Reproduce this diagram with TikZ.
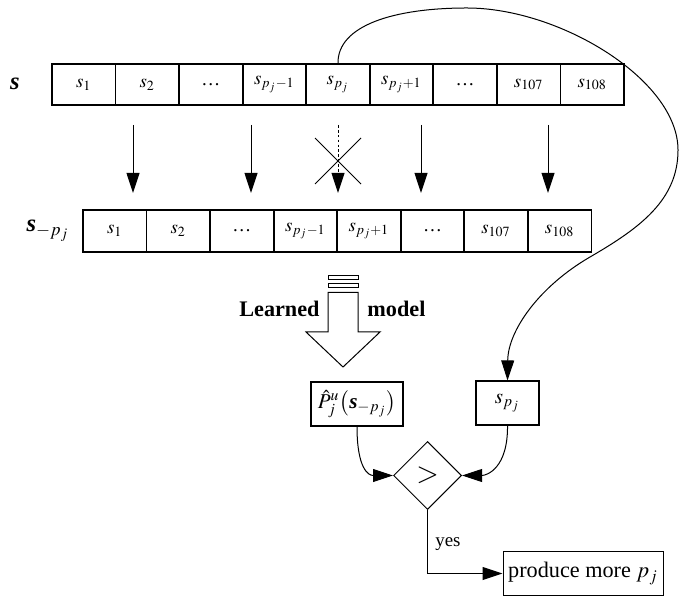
\documentclass[tikz,border=0pt]{standalone}
\usepackage{amsmath}
\usepackage{mathptmx}
\usepackage{fontspec}
\setmainfont{Liberation Serif}
\usepackage{tikz}
\usetikzlibrary{arrows, arrows.meta, positioning, shapes.geometric}
\tikzset{%
	cell/.style={draw, rectangle, line width=0.8pt, outer sep=0pt, inner sep=0pt,%
		minimum width=28.6pt, minimum height=18.6pt, font=\fontsize{8.5}{10}\selectfont},
	res/.style={draw, rectangle, line width=0.8pt, inner sep=0pt,%
		minimum height=19.5pt},
	test/.style={draw, diamond, aspect=1, minimum size=30.6pt, inner sep=0pt,%
		line width=0.45pt, font=\fontsize{13}{14}\selectfont},
	outbox/.style={draw, rectangle, line width=0.45pt, inner sep=0pt,%
		minimum width=72pt, minimum height=20.2pt, font=\fontsize{10}{12}\selectfont},
	textnode/.style={inner sep=0pt},
	connector/.style={line width=0.45pt},
	sel/.style={-{Triangle[length=9pt,width=5.8pt]}, line width=0.45pt}
}

\begin{document}
\begin{tikzpicture}[x=0.45pt, y=-0.45pt]
	\useasboundingbox (0,0) rectangle (686,597);
	% full vector
	\node[textnode, font=\fontsize{11}{12}\selectfont] (vec) at (15,84) {\textbf{\textit{s}}};
	\node[cell] (top-1) at (83.75,84.5) {$s_1$};
	\node[cell, right=0pt of top-1] (top-2) {$s_2$};
	\node[cell, right=0pt of top-2] (top-3) {…};
	\node[cell, right=0pt of top-3] (top-4) {$s_{p_j-1}$};
	\node[cell, right=0pt of top-4] (top-5) {$s_{p_j}$};
	\node[cell, right=0pt of top-5] (top-6) {$s_{p_j+1}$};
	\node[cell, right=0pt of top-6] (top-7) {…};
	\node[cell, right=0pt of top-7] (top-8) {$s_{107}$};
	\node[cell, right=0pt of top-8] (top-9) {$s_{108}$};
	% vector without s_pj
	\node[textnode, font=\fontsize{11}{12}\selectfont] (vec-red) at (48,231) {\textbf{\textit{s}}$_{-p_j}$};
	\node[cell] (bot-1) at (114.75,231) {$s_1$};
	\node[cell, right=0pt of bot-1] (bot-2) {$s_2$};
	\node[cell, right=0pt of bot-2] (bot-3) {…};
	\node[cell, right=0pt of bot-3] (bot-4) {$s_{p_j-1}$};
	\node[cell, right=0pt of bot-4] (bot-5) {$s_{p_j+1}$};
	\node[cell, right=0pt of bot-5] (bot-6) {…};
	\node[cell, right=0pt of bot-6] (bot-7) {$s_{107}$};
	\node[cell, right=0pt of bot-7] (bot-8) {$s_{108}$};
	% copy arrows
	\coordinate (from-1) at (133,125);   \coordinate (to-1) at (133,193);
	\coordinate (from-2) at (251,125);   \coordinate (to-2) at (251,193);
	\coordinate (from-3) at (338,125);   \coordinate (to-3) at (338,193);
	\coordinate (from-4) at (421,125);   \coordinate (to-4) at (421,193);
	\coordinate (from-5) at (548,125);   \coordinate (to-5) at (548,193);
	\draw [sel] (from-1) -- (to-1);
	\draw [sel] (from-2) -- (to-2);
	\draw [sel, dash pattern=on 1.2pt off 1pt] (from-3) -- (to-3);
	\draw [sel] (from-4) -- (to-4);
	\draw [sel] (from-5) -- (to-5);
	\coordinate (cross) at (338,161);
	\draw [connector] (cross) ++(-23,-23) -- ++(46,46);
	\draw [connector] (cross) ++(23,-23) -- ++(-46,46);
	% learned model arrow
	\draw [connector] (328,276) rectangle (358,279.5);
	\draw [connector] (328,283.5) rectangle (358,287.5);
	\draw [connector] (328,292.5) -- (358,292.5) -- (358,332) -- (380,332) -- (343,367)
		-- (306,332) -- (328,332) -- cycle;
	\node[textnode, anchor=east, font=\bfseries\fontsize{10}{12}\selectfont] (learned) at (320,309) {Learned};
	\node[textnode, anchor=west, font=\bfseries\fontsize{10}{12}\selectfont] (model) at (367,309) {model};
	% comparison
	\node[res, minimum width=41.4pt, font=\fontsize{9.5}{11}\selectfont] (est) at (357,404)
		{$\hat{P}^{u}_{j}\bigl(\text{\textbf{\textit{s}}}_{-p_j}\bigr)$};
	\node[res, minimum width=28.4pt, font=\fontsize{9.5}{11}\selectfont] (val) at (507.5,403) {$s_{p_j}$};
	\node[test] (cmp) at (427.5,475.5) {$>$};
	\node[outbox] (more) at (583,573.5) {produce more $p_j$};
	\draw [sel] (top-5.north) .. controls (337,25) and (395,8) .. (467,8)
		.. controls (560,8) and (678,80) .. (678,150)
		.. controls (678,200) and (640,228) .. (590,257)
		.. controls (540,286) and (508,330) .. (val.north);
	\draw [sel] (est.south) .. controls (357,468) and (368,475.5) .. (cmp.west);
	\draw [sel] (val.south) .. controls (508,468) and (487,475.5) .. (cmp.east);
	\draw [sel] (cmp.south) |- node[pos=0.27, right, font=\fontsize{8.5}{10}\selectfont]{yes} (more.west);
\end{tikzpicture}
\end{document}
